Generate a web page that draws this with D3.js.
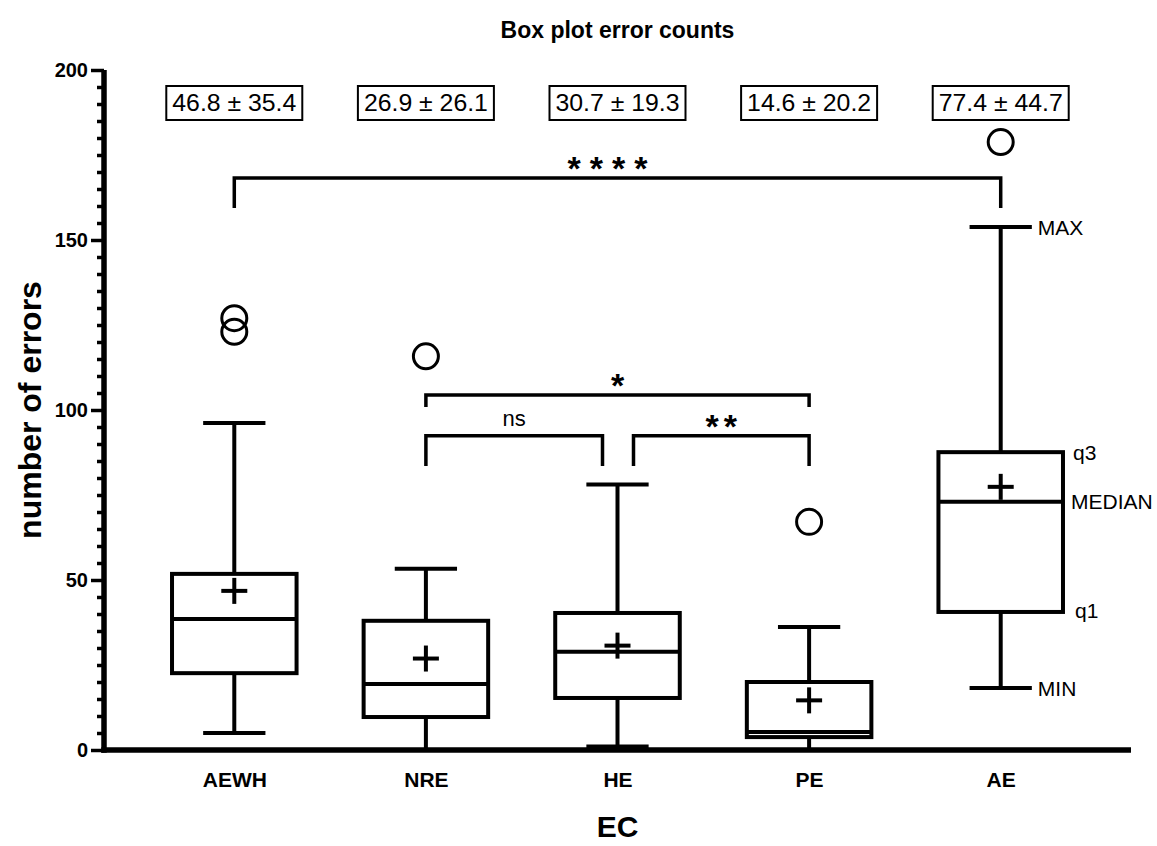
<!DOCTYPE html>
<html><head><meta charset="utf-8">
<script src="https://cdn.jsdelivr.net/npm/d3@7"></script>
<style>body{margin:0;background:#fff}</style>
</head><body><svg id="c" width="1157" height="846"></svg>
<script>
const categories = ["AEWH", "NRE", "HE", "PE", "AE"];
const minVals    = [5.0, 0, 1.0, 0, 18.2];
const q1Vals     = [22.6, 9.7, 15.3, 3.8, 40.6];
const medianVals = [38.5, 19.4, 28.9, 5.3, 73.0];
const q3Vals     = [51.8, 38.0, 40.3, 20.0, 87.6];
const maxVals    = [96.2, 53.3, 78.1, 36.2, 153.8];
const meanVals   = [46.8, 26.9, 30.7, 14.6, 77.4];
const sdVals     = [35.4, 26.1, 19.3, 20.2, 44.7];
const outlierVals = [[123.0, 127.0], [115.8], [], [67.1], [178.8]];
const yMajorTicks = [0, 50, 100, 150, 200];
const bracketFrom  = ["AEWH", "NRE", "NRE", "HE"];
const bracketTo    = ["AE", "PE", "HE", "PE"];
const bracketTop   = [168.2, 104.4, 92.4, 92.4];
const bracketLeg   = [159.4, 100.9, 83.5, 83.5];
const bracketLabel = ["****", "*", "ns", "**"];
const annoLabels = ["MAX", "q3", "MEDIAN", "q1", "MIN"];

const svg = d3.select("#c");
const pL = 104, pR = 1131, pT = 70, pB = 750;
const x = d3.scalePoint().domain(categories).range([pL, pR]).padding(0.68);
const y = d3.scaleLinear().domain([0, 200]).range([pB, pT]);
const step = x.step();
const boxW = step * 0.65, capW = boxW / 2;
const FONT = "'Liberation Sans', Arial, Helvetica, sans-serif";

// Title
svg.append("text").attr("x", (pL + pR) / 2).attr("y", 38)
  .attr("text-anchor", "middle").style("font-family", FONT).style("font-weight", "bold")
  .style("font-size", "23px").text("Box plot error counts");

// Axis labels
svg.append("text").attr("transform", `translate(41,${(pT + pB) / 2}) rotate(-90)`)
  .attr("text-anchor", "middle").style("font-family", FONT).style("font-weight", "bold")
  .style("font-size", "32px").text("number of errors");
svg.append("text").attr("x", (pL + pR) / 2).attr("y", 837)
  .attr("text-anchor", "middle").style("font-family", FONT).style("font-weight", "bold")
  .style("font-size", "30px").text("EC");

// Y axis minor ticks
const minor = d3.range(0, 201, 5).filter(v => v % 50 !== 0);
const gMinor = svg.append("g").attr("transform", `translate(${pL},0)`)
  .call(d3.axisLeft(y).tickValues(minor).tickSize(7).tickFormat(""));
gMinor.select(".domain").remove();
gMinor.selectAll("line").attr("stroke", "#000").attr("stroke-width", 3.5);

// Y axis major
const gY = svg.append("g").attr("transform", `translate(${pL},0)`)
  .call(d3.axisLeft(y).tickValues(yMajorTicks).tickSize(13).tickSizeOuter(0).tickPadding(3));
gY.select(".domain").attr("stroke", "#000").attr("stroke-width", 5.5)
  .attr("d", `M0,${pB + 2.75}V${pT}`);
gY.selectAll("line").attr("stroke", "#000").attr("stroke-width", 3.5);
gY.selectAll("text").style("font-family", FONT).style("font-weight", "bold").style("font-size", "20px").attr("fill", "#000");

// X axis
const gX = svg.append("g").attr("transform", `translate(0,${pB})`)
  .call(d3.axisBottom(x).tickSize(0).tickSizeOuter(0).tickPadding(22));
gX.select(".domain").attr("stroke", "#000").attr("stroke-width", 5.5)
  .attr("d", `M${pL - 2.75},0H${pR}`);
gX.selectAll("text").style("font-family", FONT).style("font-weight", "bold").style("font-size", "21px").attr("fill", "#000");

// Boxes
const data = categories.map((c, i) => ({c, min: minVals[i], q1: q1Vals[i], med: medianVals[i], q3: q3Vals[i], max: maxVals[i], mean: meanVals[i], sd: sdVals[i], out: outlierVals[i]}));
const g = svg.append("g").attr("stroke", "#000").attr("fill", "none");
data.forEach(d => {
  const cx = x(d.c);
  g.append("line").attr("x1", cx).attr("x2", cx).attr("y1", y(d.q3)).attr("y2", y(d.max)).attr("stroke-width", 4);
  g.append("line").attr("x1", cx).attr("x2", cx).attr("y1", y(d.q1)).attr("y2", y(d.min)).attr("stroke-width", 4);
  g.append("line").attr("x1", cx - capW / 2).attr("x2", cx + capW / 2).attr("y1", y(d.max)).attr("y2", y(d.max)).attr("stroke-width", 4);
  g.append("line").attr("x1", cx - capW / 2).attr("x2", cx + capW / 2).attr("y1", y(d.min)).attr("y2", y(d.min)).attr("stroke-width", 4);
  g.append("rect").attr("x", cx - boxW / 2).attr("y", y(d.q3)).attr("width", boxW)
    .attr("height", y(d.q1) - y(d.q3)).attr("fill", "#fff").attr("stroke-width", 4);
  g.append("line").attr("x1", cx - boxW / 2).attr("x2", cx + boxW / 2).attr("y1", y(d.med)).attr("y2", y(d.med)).attr("stroke-width", 4);
  g.append("line").attr("x1", cx - 13).attr("x2", cx + 13).attr("y1", y(d.mean)).attr("y2", y(d.mean)).attr("stroke-width", 4);
  g.append("line").attr("x1", cx).attr("x2", cx).attr("y1", y(d.mean) - 13).attr("y2", y(d.mean) + 13).attr("stroke-width", 4);
  d.out.forEach(v => g.append("circle").attr("cx", cx).attr("cy", y(v)).attr("r", 12.5).attr("stroke-width", 3));
  const sg = svg.append("g").attr("transform", `translate(${cx},103)`);
  sg.append("rect").attr("x", -68).attr("y", -17).attr("width", 136).attr("height", 34)
    .attr("fill", "#fff").attr("stroke", "#000").attr("stroke-width", 2);
  sg.append("text").attr("text-anchor", "middle").attr("dy", "0.36em")
    .style("font-family", "'Liberation Sans Narrow', " + FONT).style("font-size", "23px")
    .attr("textLength", 124).attr("lengthAdjust", "spacingAndGlyphs")
    .text(`${d.mean.toFixed(1)} ± ${d.sd.toFixed(1)}`);
});

// Significance brackets
const nudge = {"ns": [0, -15], "**": [16, 0]};
const textShift = {"****": -10};
const spacing = {"****": "9px", "**": "5px", "*": "0px", "ns": "0px"};
bracketLabel.forEach((lab, i) => {
  const n = nudge[lab] || [0, 0];
  const x1 = x(bracketFrom[i]) + n[0], x2 = x(bracketTo[i]) + n[1];
  const yt = y(bracketTop[i]), yl = y(bracketLeg[i]);
  svg.append("path").attr("d", `M${x1},${yl}V${yt}H${x2}V${yl}`)
    .attr("fill", "none").attr("stroke", "#000").attr("stroke-width", 3.5);
  const isStar = lab.includes("*");
  const ls = parseFloat(spacing[lab]);
  svg.append("text").attr("x", (x1 + x2) / 2 + (textShift[lab] || 0) + ls / 2).attr("y", isStar ? yt + 2 : yt - 10)
    .attr("text-anchor", "middle").style("font-family", FONT)
    .style("font-weight", isStar ? "bold" : "normal")
    .style("font-size", isStar ? "34px" : "22px")
    .style("letter-spacing", spacing[lab])
    .text(lab);
});

// AE annotation labels
const last = data[data.length - 1];
const cxL = x(last.c);
const annoY = [last.max, last.q3, last.med, last.q1, last.min];
const annoDx = [capW / 2 + 6, boxW / 2 + 10, boxW / 2 + 8, boxW / 2 + 12, capW / 2 + 6];
const annoDy = [0, 0, 0, -2, 0];
annoLabels.forEach((t, i) => {
  svg.append("text").attr("x", cxL + annoDx[i]).attr("y", y(annoY[i]) + annoDy[i])
    .attr("dy", "0.36em").style("font-family", FONT).style("font-size", "21px").text(t);
});
</script></body></html>
